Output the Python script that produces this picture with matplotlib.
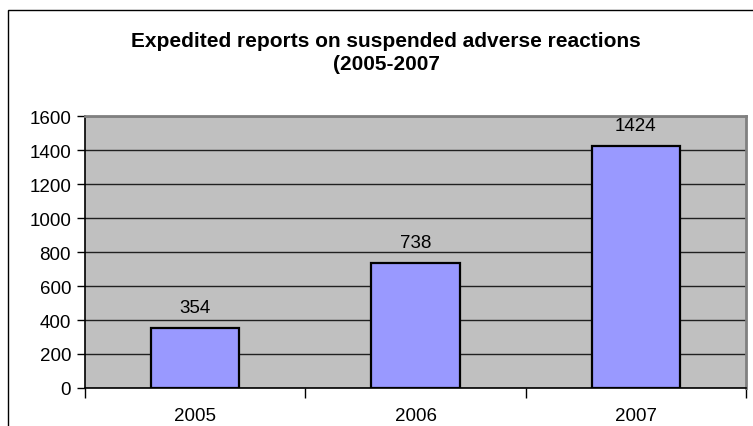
import matplotlib
matplotlib.use('Agg')
import matplotlib.pyplot as plt
from matplotlib.patches import Rectangle

plt.rcParams['font.family'] = ['Liberation Sans', 'DejaVu Sans']

# data
years = ['2005', '2006', '2007']
reports = [354, 738, 1424]
yticks = [0, 200, 400, 600, 800, 1000, 1200, 1400, 1600]

W, H = 753, 427
fig = plt.figure(figsize=(W / 100, H / 100), dpi=100)
fig.patch.set_facecolor('white')

# outer chart border (right/bottom edges are cut off in the reference)
fig.patches.append(Rectangle((8 / W, -0.1), 1.1, (H - 11) / H + 0.1,
                             transform=fig.transFigure, fill=False,
                             edgecolor='black', linewidth=1.0))

ax = fig.add_axes([85 / W, (H - 389) / H, (746 - 85) / W, (389 - 117) / H])
ax.set_facecolor('#C0C0C0')

x = list(range(len(years)))
ax.bar(x, reports, width=0.4, color='#9999FF', edgecolor='black',
       linewidth=1.6, zorder=3)
for xi, v in zip(x, reports):
    ax.text(xi, v + 94, str(v), ha='center', va='baseline', fontsize=13.5)

ax.set_xlim(-0.5, len(years) - 0.5)
ax.set_ylim(0, 1600)
ax.set_yticks(yticks)
ax.set_yticklabels([str(t) for t in yticks], fontsize=13.5)
ax.yaxis.grid(True, color='#202020', linewidth=1.0, zorder=1)
ax.set_axisbelow(True)

# category labels centred, ticks at category boundaries
ax.set_xticks([-0.5, 0.5, 1.5, 2.5])
ax.set_xticklabels([])
ax.set_xticks(x, minor=True)
ax.set_xticklabels(years, minor=True, fontsize=13.5)
ax.tick_params(axis='x', which='minor', length=0, pad=14)
ax.tick_params(axis='x', which='major', length=7, width=1, color='black')
ax.tick_params(axis='y', length=6, width=1, pad=4)

ax.spines['top'].set_color('#808080')
ax.spines['right'].set_color('#808080')
ax.spines['top'].set_linewidth(2)
ax.spines['right'].set_linewidth(2)
ax.spines['left'].set_linewidth(1.2)
ax.spines['bottom'].set_linewidth(1.2)

fig.text(0.513, (H - 47) / H, 'Expedited reports on suspended adverse reactions',
         ha='center', va='baseline', fontsize=15, fontweight='bold')
fig.text(0.513, (H - 70) / H, '(2005-2007',
         ha='center', va='baseline', fontsize=15, fontweight='bold')

fig.savefig('out.png', dpi=100)
